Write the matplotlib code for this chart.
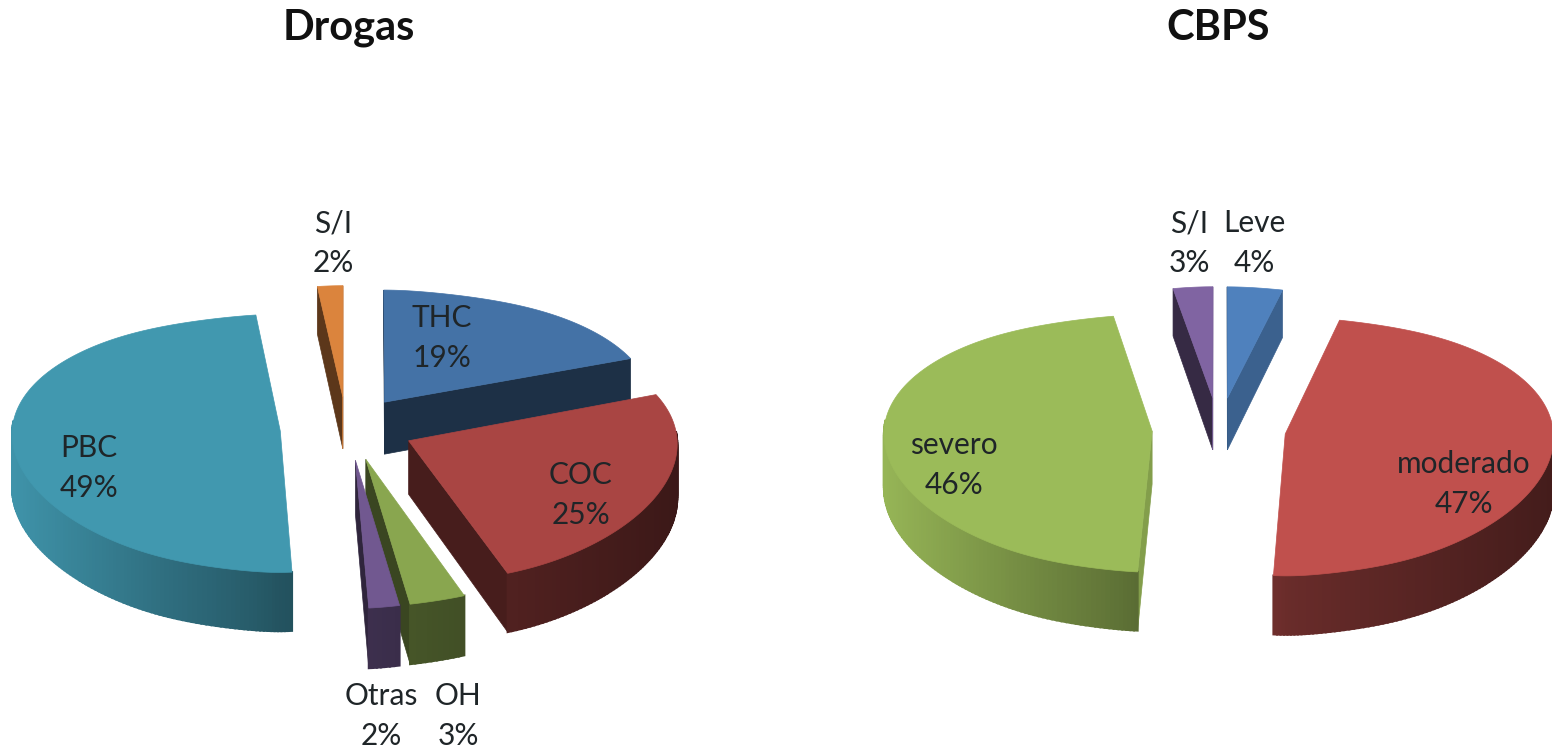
import numpy as np
import matplotlib
matplotlib.use("Agg")
import matplotlib.pyplot as plt
from matplotlib.colors import to_rgb

# Data
drogas_labels = ["THC", "COC", "OH", "Otras", "PBC", "S/I"]
drogas_values = [19, 25, 3, 2, 49, 2]
drogas_colors = ["#4472A6", "#A94543", "#89A64F", "#715890", "#4198AF", "#DB843D"]

cbps_labels = ["Leve", "moderado", "severo", "S/I"]
cbps_values = [4, 47, 46, 3]
cbps_colors = ["#4F81BD", "#C0504D", "#9BBB59", "#8064A2"]

# Label positions (pixels)
drogas_label_pos = [(442, 338), (581, 495), (458, 716), (381, 716), (89, 468), (333, 243)]
cbps_label_pos = [(1254, 243), (1464, 484), (954, 465), (1189, 243)]

# Projection settings
RX = 268
RY = 127.4
PERSP_Y = 0.095
PERSP_X = 0.02
DEPTH = 53
EXPLODE = 0.25
PINCH = 0.25  # arcs are narrower close to the vertical axis


def project(cx, cy, X, Z, down=0.0):
    sx = 1.0 / (1.0 + PERSP_X * Z)
    sy = 1.0 / (1.0 + PERSP_Y * Z)
    return cx + sx * X * RX, cy - sy * Z * RY + sy * down


def arc_x(t):
    c = np.cos(t)
    power = np.where(c > 0, 16, 30)
    return np.sin(t) * (1 - PINCH * np.abs(c) ** power)


def shade_outer(nx):
    if nx < 0:
        return 0.55 - 0.42 * nx
    return 0.55 - 0.2 * nx


def shade_radial(nx):
    return 0.42 + 0.43 * max(0.0, nx) ** 8


def darken(color, f):
    return tuple(min(1.0, c * f) for c in to_rgb(color))


def draw_pie(ax, cx, cy, values, colors):
    total = float(sum(values))
    edges = np.cumsum([0] + list(values)) / total * 2 * np.pi
    slices = []
    for i in range(len(values)):
        mid = (edges[i] + edges[i + 1]) / 2
        slices.append((np.cos(mid), i))
    # back slices first
    for _, i in sorted(slices, reverse=True):
        t0, t1 = edges[i], edges[i + 1]
        mid = (t0 + t1) / 2
        ox, oz = EXPLODE * np.sin(mid), EXPLODE * np.cos(mid)
        t = np.linspace(t0, t1, max(8, int((t1 - t0) * 60)))
        X = ox + arc_x(t)
        Z = oz + np.cos(t)
        base = colors[i]
        order = 2 + (1 - np.cos(mid))

        # radial faces
        for tr, sign in ((t0, -1), (t1, 1)):
            nx = np.sin(tr + sign * np.pi / 2)
            nz = np.cos(tr + sign * np.pi / 2)
            ex, ez = ox + arc_x(tr), oz + np.cos(tr)
            a = project(cx, cy, ox, oz)
            b = project(cx, cy, ex, ez)
            a2 = project(cx, cy, ox, oz, DEPTH)
            b2 = project(cx, cy, ex, ez, DEPTH)
            # visible when the face looks at the viewer
            if nz < 0.05:
                col = darken(base, shade_radial(nx))
                ax.fill([a[0], b[0], b2[0], a2[0]], [a[1], b[1], b2[1], a2[1]],
                        color=col, lw=0.5, zorder=order)

        # outer wall, small strips for the gradient
        for j in range(len(t) - 1):
            if np.cos((t[j] + t[j + 1]) / 2) > 0.08:
                continue
            p1 = project(cx, cy, X[j], Z[j])
            p2 = project(cx, cy, X[j + 1], Z[j + 1])
            p3 = project(cx, cy, X[j + 1], Z[j + 1], DEPTH)
            p4 = project(cx, cy, X[j], Z[j], DEPTH)
            col = darken(base, shade_outer(np.sin((t[j] + t[j + 1]) / 2)))
            ax.fill([p1[0], p2[0], p3[0], p4[0]], [p1[1], p2[1], p3[1], p4[1]],
                    color=col, lw=1.5, zorder=order)

        # top face
        top = [project(cx, cy, ox, oz)] + [project(cx, cy, x, z) for x, z in zip(X, Z)]
        tx, ty = zip(*top)
        ax.fill(tx, ty, color=base, lw=0.5, zorder=order + 0.01)


def draw_labels(ax, labels, values, pos):
    for lab, val, (x, y) in zip(labels, values, pos):
        ax.text(x, y, f"{lab}\n{val}%", ha="center", va="center", fontsize=21.5,
                color="#1f2528", linespacing=1.5, zorder=10)


plt.rcParams["font.family"] = ["Lato", "DejaVu Sans"]
fig = plt.figure(figsize=(15.52, 7.5), dpi=100)
ax = fig.add_axes([0, 0, 1, 1])
ax.set_xlim(0, 1552)
ax.set_ylim(750, 0)
ax.axis("off")

draw_pie(ax, 347, 428, drogas_values, drogas_colors)
draw_pie(ax, 1219, 429, cbps_values, cbps_colors)
draw_labels(ax, drogas_labels, drogas_values, drogas_label_pos)
draw_labels(ax, cbps_labels, cbps_values, cbps_label_pos)

ax.text(349, 28, "Drogas", ha="center", va="center", fontsize=30, fontweight="bold", color="#111111")
ax.text(1218, 28, "CBPS", ha="center", va="center", fontsize=30, fontweight="bold", color="#111111")

fig.savefig("out.png", dpi=100)
